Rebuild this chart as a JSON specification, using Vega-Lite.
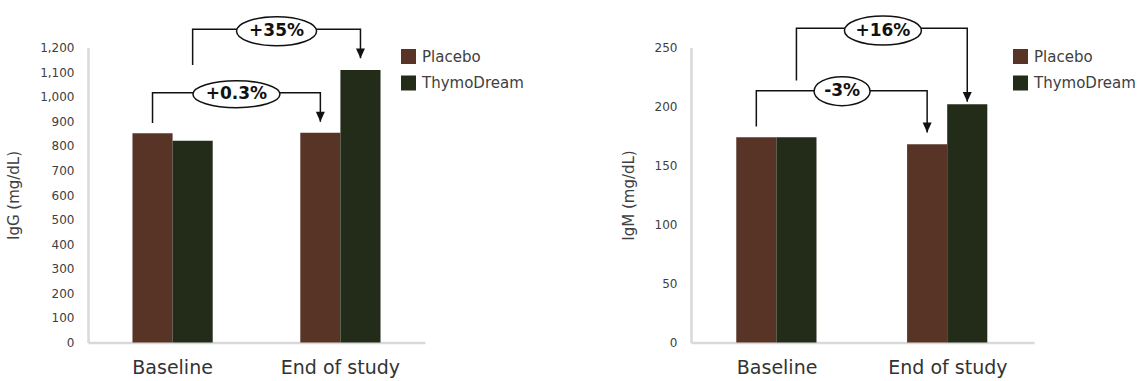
{
  "$schema": "https://vega.github.io/schema/vega-lite/v6.json",
  "background": "white",
  "padding": {"left": 6, "top": 12.5, "right": 0, "bottom": 0},
  "config": {
    "font": "DejaVu Sans",
    "view": {"stroke": null},
    "axis": {
      "domainColor": "#d9d9d9",
      "domainWidth": 2.5,
      "ticks": false,
      "grid": false,
      "labelFont": "DejaVu Sans",
      "titleFont": "DejaVu Sans",
      "labelColor": "#404040",
      "titleColor": "#404040",
      "titleFontWeight": "normal"
    },
    "axisX": {"labelFontSize": 19, "labelPadding": 16, "labelAngle": 0, "labelColor": "#333333"},
    "axisY": {"labelFontSize": 12, "labelPadding": 14, "titleFontSize": 15, "titlePadding": 18},
    "legend": {
      "padding": 0,
      "labelFont": "DejaVu Sans",
      "labelFontSize": 15,
      "labelColor": "#404040",
      "labelOffset": 6,
      "symbolType": "square",
      "symbolSize": 225,
      "symbolStrokeWidth": 0,
      "rowPadding": 10.5
    }
  },
  "datasets": {
    "igg_bars": [
      {"time": "Baseline", "group": "Placebo", "value": 851},
      {"time": "Baseline", "group": "ThymoDream", "value": 821},
      {"time": "End of study", "group": "Placebo", "value": 853},
      {"time": "End of study", "group": "ThymoDream", "value": 1108}
    ],
    "igg_brackets": [
      {"bracket": "+0.3%", "group": "Placebo", "time": "Baseline", "seq": 1, "value": 893},
      {"bracket": "+0.3%", "group": "Placebo", "time": "Baseline", "seq": 2, "value": 1016},
      {"bracket": "+0.3%", "group": "Placebo", "time": "End of study", "seq": 3, "value": 1016},
      {"bracket": "+0.3%", "group": "Placebo", "time": "End of study", "seq": 4, "value": 898},
      {"bracket": "+35%", "group": "ThymoDream", "time": "Baseline", "seq": 1, "value": 1129},
      {"bracket": "+35%", "group": "ThymoDream", "time": "Baseline", "seq": 2, "value": 1274},
      {"bracket": "+35%", "group": "ThymoDream", "time": "End of study", "seq": 3, "value": 1274},
      {"bracket": "+35%", "group": "ThymoDream", "time": "End of study", "seq": 4, "value": 1156}
    ],
    "igg_labels": [
      {"label": "+0.3%", "group": "Placebo", "from": "Baseline", "value": 1010},
      {"label": "+35%", "group": "ThymoDream", "from": "Baseline", "value": 1266}
    ],
    "igm_bars": [
      {"time": "Baseline", "group": "Placebo", "value": 174},
      {"time": "Baseline", "group": "ThymoDream", "value": 174},
      {"time": "End of study", "group": "Placebo", "value": 168},
      {"time": "End of study", "group": "ThymoDream", "value": 202}
    ],
    "igm_brackets": [
      {"bracket": "-3%", "group": "Placebo", "time": "Baseline", "seq": 1, "value": 183},
      {"bracket": "-3%", "group": "Placebo", "time": "Baseline", "seq": 2, "value": 213.4},
      {"bracket": "-3%", "group": "Placebo", "time": "End of study", "seq": 3, "value": 213.4},
      {"bracket": "-3%", "group": "Placebo", "time": "End of study", "seq": 4, "value": 178},
      {"bracket": "+16%", "group": "ThymoDream", "time": "Baseline", "seq": 1, "value": 222},
      {"bracket": "+16%", "group": "ThymoDream", "time": "Baseline", "seq": 2, "value": 266.3},
      {"bracket": "+16%", "group": "ThymoDream", "time": "End of study", "seq": 3, "value": 266.3},
      {"bracket": "+16%", "group": "ThymoDream", "time": "End of study", "seq": 4, "value": 204}
    ],
    "igm_labels": [
      {"label": "-3%", "group": "Placebo", "from": "Baseline", "value": 213},
      {"label": "+16%", "group": "ThymoDream", "from": "Baseline", "value": 264.4}
    ]
  },
  "spacing": 266,
  "bounds": "flush",
  "resolve": {"scale": {"color": "independent"}, "legend": {"color": "independent"}},
  "hconcat": [
    {
      "width": 337,
      "height": 295,
      "encoding": {
        "x": {"field": "time", "type": "nominal", "sort": ["Baseline", "End of study"], "title": null,
              "scale": {"paddingInner": 0.522, "paddingOuter": 0.265}},
        "y": {"field": "value", "type": "quantitative",
              "scale": {"domain": [0, 1200], "nice": false},
              "axis": {"title": "IgG (mg/dL)", "format": ",d", "tickCount": 12}}
      },
      "layer": [
        {
          "data": {"name": "igg_bars"},
          "mark": {"type": "bar"},
          "encoding": {
            "xOffset": {"field": "group", "type": "nominal", "sort": ["Placebo", "ThymoDream"]},
            "color": {"field": "group", "type": "nominal",
                      "scale": {"domain": ["Placebo", "ThymoDream"], "range": ["#583426", "#222c19"]},
                      "legend": {"title": null, "orient": "none", "legendX": 313, "legendY": 1.5}}
          }
        },
        {
          "data": {"name": "igg_brackets"},
          "mark": {"type": "line", "color": "#111111", "strokeWidth": 1.5},
          "encoding": {
            "xOffset": {"field": "group", "type": "nominal", "sort": ["Placebo", "ThymoDream"]},
            "order": {"field": "seq", "type": "quantitative"},
            "detail": {"field": "bracket", "type": "nominal"}
          }
        },
        {
          "data": {"name": "igg_brackets"},
          "transform": [{"filter": "datum.seq == 4"}],
          "mark": {"type": "point", "shape": "M-1,-2.2L1,-2.2L0,0Z", "size": 81, "filled": true, "color": "#111111", "opacity": 1},
          "encoding": {
            "xOffset": {"field": "group", "type": "nominal", "sort": ["Placebo", "ThymoDream"]}
          }
        },
        {
          "data": {"name": "igg_labels"},
          "transform": [{"filter": "datum.group == 'Placebo'"}],
          "layer": [
            {"mark": {"type": "point", "shape": "M-1,0C-1,-0.1712,-0.5523,-0.31,0,-0.31C0.5523,-0.31,1,-0.1712,1,0C1,0.1712,0.5523,0.31,0,0.31C-0.5523,0.31,-1,0.1712,-1,0Z", "size": 7569,
                      "filled": true, "fill": "white", "stroke": "#111111", "strokeWidth": 1.5, "opacity": 1}},
            {"mark": {"type": "text", "fontSize": 17, "fontWeight": "bold", "color": "#111111", "baseline": "middle", "align": "center"},
             "encoding": {"text": {"field": "label"}}}
          ],
          "encoding": {
            "x": {"field": "from", "type": "nominal", "sort": ["Baseline", "End of study"], "bandPosition": 1.296}
          }
        },
        {
          "data": {"name": "igg_labels"},
          "transform": [{"filter": "datum.group == 'ThymoDream'"}],
          "layer": [
            {"mark": {"type": "point", "shape": "M-1,0C-1,-0.2002,-0.5523,-0.3625,0,-0.3625C0.5523,-0.3625,1,-0.2002,1,0C1,0.2002,0.5523,0.3625,0,0.3625C-0.5523,0.3625,-1,0.2002,-1,0Z", "size": 6400,
                      "filled": true, "fill": "white", "stroke": "#111111", "strokeWidth": 1.5, "opacity": 1}},
            {"mark": {"type": "text", "fontSize": 17, "fontWeight": "bold", "color": "#111111", "baseline": "middle", "align": "center"},
             "encoding": {"text": {"field": "label"}}}
          ],
          "encoding": {
            "x": {"field": "from", "type": "nominal", "sort": ["Baseline", "End of study"], "bandPosition": 1.796}
          }
        }
      ]
    },
    {
      "width": 343,
      "height": 295,
      "encoding": {
        "x": {"field": "time", "type": "nominal", "sort": ["Baseline", "End of study"], "title": null,
              "scale": {"paddingInner": 0.522, "paddingOuter": 0.265}},
        "y": {"field": "value", "type": "quantitative",
              "scale": {"domain": [0, 250], "nice": false},
              "axis": {"title": "IgM (mg/dL)", "tickCount": 5}}
      },
      "layer": [
        {
          "data": {"name": "igm_bars"},
          "mark": {"type": "bar"},
          "encoding": {
            "xOffset": {"field": "group", "type": "nominal", "sort": ["Placebo", "ThymoDream"]},
            "color": {"field": "group", "type": "nominal",
                      "scale": {"domain": ["Placebo", "ThymoDream"], "range": ["#583426", "#222c19"]},
                      "legend": {"title": null, "orient": "none", "legendX": 322, "legendY": 1.5}}
          }
        },
        {
          "data": {"name": "igm_brackets"},
          "mark": {"type": "line", "color": "#111111", "strokeWidth": 1.5},
          "encoding": {
            "xOffset": {"field": "group", "type": "nominal", "sort": ["Placebo", "ThymoDream"]},
            "order": {"field": "seq", "type": "quantitative"},
            "detail": {"field": "bracket", "type": "nominal"}
          }
        },
        {
          "data": {"name": "igm_brackets"},
          "transform": [{"filter": "datum.seq == 4"}],
          "mark": {"type": "point", "shape": "M-1,-2.2L1,-2.2L0,0Z", "size": 81, "filled": true, "color": "#111111", "opacity": 1},
          "encoding": {
            "xOffset": {"field": "group", "type": "nominal", "sort": ["Placebo", "ThymoDream"]}
          }
        },
        {
          "data": {"name": "igm_labels"},
          "transform": [{"filter": "datum.group == 'Placebo'"}],
          "layer": [
            {"mark": {"type": "point", "shape": "M-1,0C-1,-0.2861,-0.5523,-0.518,0,-0.518C0.5523,-0.518,1,-0.2861,1,0C1,0.2861,0.5523,0.518,0,0.518C-0.5523,0.518,-1,0.2861,-1,0Z", "size": 3136,
                      "filled": true, "fill": "white", "stroke": "#111111", "strokeWidth": 1.5, "opacity": 1}},
            {"mark": {"type": "text", "fontSize": 17, "fontWeight": "bold", "color": "#111111", "baseline": "middle", "align": "center"},
             "encoding": {"text": {"field": "label"}}}
          ],
          "encoding": {
            "x": {"field": "from", "type": "nominal", "sort": ["Baseline", "End of study"], "bandPosition": 1.296}
          }
        },
        {
          "data": {"name": "igm_labels"},
          "transform": [{"filter": "datum.group == 'ThymoDream'"}],
          "layer": [
            {"mark": {"type": "point", "shape": "M-1,0C-1,-0.2082,-0.5523,-0.377,0,-0.377C0.5523,-0.377,1,-0.2082,1,0C1,0.2082,0.5523,0.377,0,0.377C-0.5523,0.377,-1,0.2082,-1,0Z", "size": 5929,
                      "filled": true, "fill": "white", "stroke": "#111111", "strokeWidth": 1.5, "opacity": 1}},
            {"mark": {"type": "text", "fontSize": 17, "fontWeight": "bold", "color": "#111111", "baseline": "middle", "align": "center"},
             "encoding": {"text": {"field": "label"}}}
          ],
          "encoding": {
            "x": {"field": "from", "type": "nominal", "sort": ["Baseline", "End of study"], "bandPosition": 1.796}
          }
        }
      ]
    }
  ]
}
